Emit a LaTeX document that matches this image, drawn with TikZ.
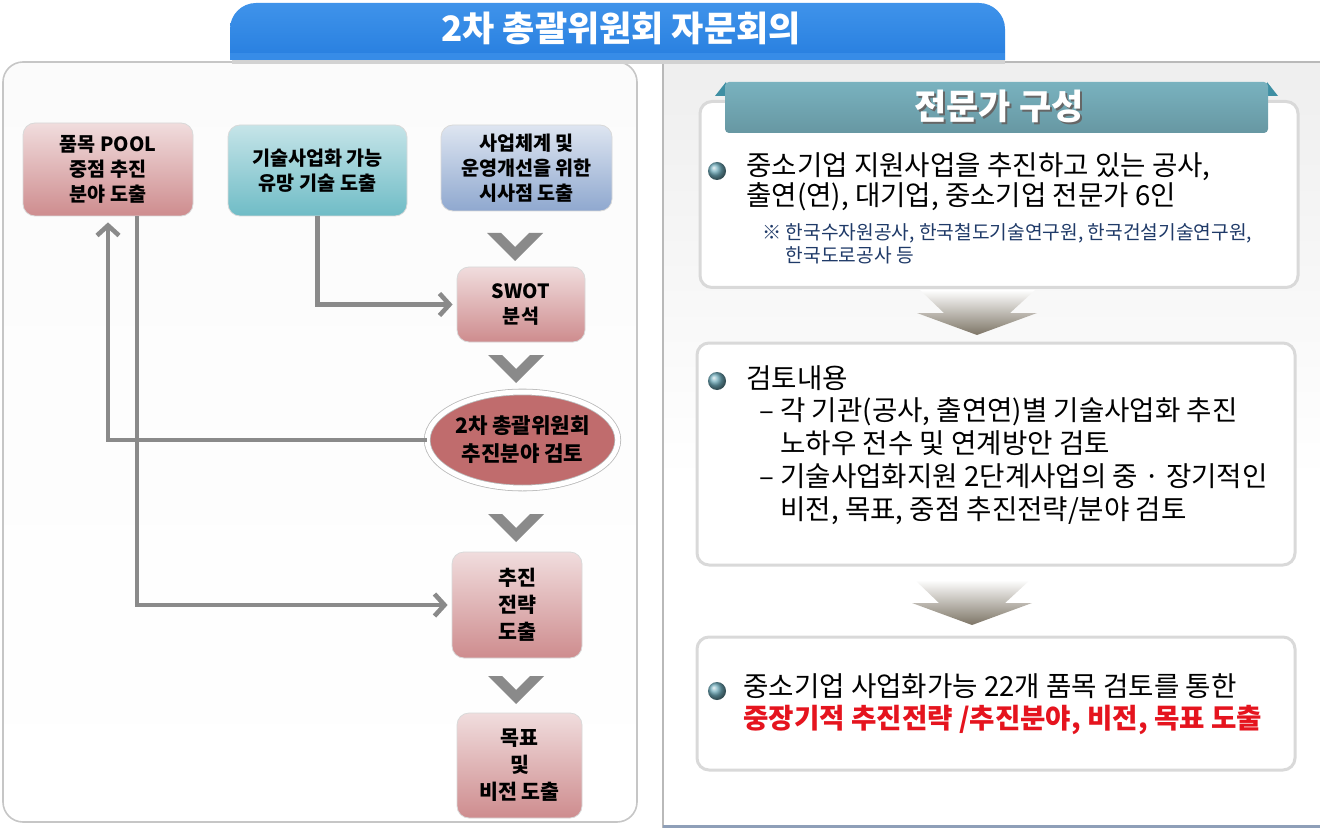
\documentclass[tikz,border=0pt]{standalone}
\usepackage{fontspec}
\setmainfont{Noto Sans CJK KR}
\usepackage{tikz}
\usetikzlibrary{positioning}
\usetikzlibrary{arrows.meta}
\usetikzlibrary{shapes.geometric}

\definecolor{tabblue}{HTML}{1670D8}
\definecolor{tabbluelt}{HTML}{3F93EA}
\definecolor{pinkbox}{HTML}{CE8C8E}
\definecolor{tealbox}{HTML}{6FBCC6}
\definecolor{bluebox}{HTML}{8FA8CF}
\definecolor{ovalred}{HTML}{C06C6D}
\definecolor{flowgray}{HTML}{8A8A8A}
\definecolor{ribbon}{HTML}{79B2BF}
\definecolor{ribbondk}{HTML}{3F8FA3}
\definecolor{notenavy}{HTML}{1F3A68}
\definecolor{hotred}{HTML}{E5141E}
\definecolor{funnel}{HTML}{7D7566}
\definecolor{edgeblue}{HTML}{8E9FB8}

% big grey V between the steps
\newcommand{\chevron}[2]{%
  \fill[flowgray] (#1-28,#2) -- (#1-14,#2) -- (#1,#2+14) -- (#1+14,#2) -- (#1+28,#2) -- (#1,#2+28) -- cycle;}
% funnel arrow between the panels
\newcommand{\funnelarrow}[2]{%
  \shade[top color=white, bottom color=funnel] (#1-57,#2) -- (#1+58,#2) -- (#1+33,#2+23) -- (#1+60,#2+23) -- (#1,#2+45) -- (#1-60,#2+23) -- (#1-33,#2+23) -- cycle;}

\begin{document}
\begin{tikzpicture}[x=0.5pt,y=-0.5pt,
  stepbox/.style={rectangle,rounded corners=6pt,draw=white!70!gray,align=center,inner sep=0pt,
    font=\bfseries\fontsize{9.8}{12.5}\selectfont},
  pinkfill/.style={top color=pinkbox!30,middle color=pinkbox!90,bottom color=pinkbox},
  tealfill/.style={top color=tealbox!40,middle color=tealbox!90,bottom color=tealbox},
  bluefill/.style={top color=bluebox!30,middle color=bluebox!85,bottom color=bluebox},
  flowline/.style={draw=flowgray,line width=2.3pt,-{Straight Barb[length=5pt,width=11pt]}},
  panel/.style={rectangle,draw=gray!30,line width=1.5pt,fill=white,rounded corners=6pt,inner sep=0pt},
  bodytext/.style={anchor=west,align=left,inner sep=0pt,font=\fontsize{13.8}{15}\selectfont}]

\useasboundingbox (0,0) rectangle (1320,828);

% backgrounds
\draw[gray!45,line width=0.8pt,rounded corners=10pt,top color=gray!3,middle color=gray!15,bottom color=white]
  (3,62) rectangle (637,822);
\shade[top color=gray!13,bottom color=white] (663,62) rectangle (1320,480);
\draw[gray!55,line width=0.8pt] (1320,62) -- (663,62) -- (663,828);
\draw[edgeblue,line width=1.5pt] (663,826) -- (1320,826);

% title tab
\fill[gray!35] (232,58) rectangle (1005,64);
\begin{scope}
  \clip (0,0) rectangle (1320,60);
  \shade[top color=tabbluelt,bottom color=tabblue,rounded corners=13pt] (230,3) rectangle (1005,100);
\end{scope}
\fill[tabbluelt!80!tabblue] (230,53) rectangle (1005,60);
\node[font=\bfseries\fontsize{17.5}{20}\selectfont,text=white] (title) at (621,28) {2차 총괄위원회 자문회의};

% left flow
\node[stepbox,pinkfill,minimum width=85pt,minimum height=46.5pt] (pool) at (108,169.5) {품목 POOL\\중점 추진\\분야 도출};
\node[stepbox,tealfill,minimum width=89.5pt,minimum height=45.5pt] (tech) at (317.5,170.5) {기술사업화 가능\\유망 기술 도출};
\node[stepbox,bluefill,minimum width=85.5pt,minimum height=43pt] (hint) at (526.5,168) {사업체계 및\\운영개선을 위한\\시사점 도출};
\node[stepbox,pinkfill,minimum width=64pt,minimum height=37.5pt] (swot) at (521,304.5) {SWOT\\분석};
\node[ellipse,draw=gray!55,double=white,double distance=2.5pt,fill=ovalred,inner sep=0pt,
  minimum width=95pt,minimum height=48pt,align=center,font=\bfseries\fontsize{10.6}{14}\selectfont] (gv) at (522.5,440) {2차 총괄위원회\\추진분야 검토};
\node[stepbox,pinkfill,minimum width=65pt,minimum height=53pt,font=\bfseries\fontsize{10.3}{13.5}\selectfont] (strat) at (517,605) {추진\\전략\\도출};
\node[stepbox,pinkfill,minimum width=62.5pt,minimum height=52.5pt,font=\bfseries\fontsize{10.3}{13.5}\selectfont] (goal) at (519.5,765.5) {목표\\및\\비전 도출};

\chevron{515}{233}
\chevron{516}{355}
\chevron{516}{514}
\chevron{516}{676}

\draw[flowline] (gv.west) -| ([yshift=-3pt]pool.south);
\draw[flowline] ([xshift=14.5pt]pool.south) |- ([xshift=-2pt]strat.west);
\draw[flowline] (tech.south) |- ([xshift=-2pt]swot.west);

% right side panels
\node[panel,minimum width=299pt,minimum height=93pt] (pan1) at (999,194.5) {};
\node[panel,minimum width=299pt,minimum height=111pt] (pan2) at (996,454) {};
\node[panel,minimum width=299pt,minimum height=66.5pt] (pan3) at (996,703.5) {};

% ribbon header
\fill[ribbondk] (715,96) -- (726,82) -- (726,96) -- cycle;
\fill[ribbondk] (1278,96) -- (1267,82) -- (1267,96) -- cycle;
\shade[top color=ribbon,bottom color=ribbon!85!black,rounded corners=2pt] (725,82) rectangle (1268,133);
\node[font=\bfseries\fontsize{17.5}{20}\selectfont,text=black!60] at (1001,108) {전문가 구성};
\node[font=\bfseries\fontsize{17.5}{20}\selectfont,text=white] (expert) at (999,106) {전문가 구성};

% bullets
\foreach \by in {171,381,691}
  \shade[ball color=ribbondk!75!white] (717,\by) circle (4.5pt);

\node[bodytext] (who) at (746,182) {중소기업 지원사업을 추진하고 있는 공사,\\출연(연), 대기업, 중소기업 전문가 6인};
\node[bodytext,text=notenavy,font=\fontsize{9.6}{11.5}\selectfont,below=6pt of who.south west,anchor=north west,xshift=8pt]
  (inst) {※ 한국수자원공사, 한국철도기술연구원, 한국건설기술연구원,\\\phantom{※ }한국도로공사 등};

\node[bodytext] (rev) at (746,378) {검토내용};
\node[bodytext,font=\fontsize{13.8}{16.5}\selectfont] (revlist) at (759,461) {– 각 기관(공사, 출연연)별 기술사업화 추진\\\phantom{– }노하우 전수 및 연계방안 검토\\– 기술사업화지원 2단계사업의 중 · 장기적인\\\phantom{– }비전, 목표, 중점 추진전략/분야 검토};

\node[bodytext,font=\fontsize{13.8}{16}\selectfont] (res) at (743,704) {중소기업 사업화가능 22개 품목 검토를 통한\\{\bfseries\color{hotred}중장기적 추진전략 /추진분야, 비전, 목표 도출}};

\funnelarrow{977}{290}
\funnelarrow{972}{580}

\end{tikzpicture}
\end{document}
